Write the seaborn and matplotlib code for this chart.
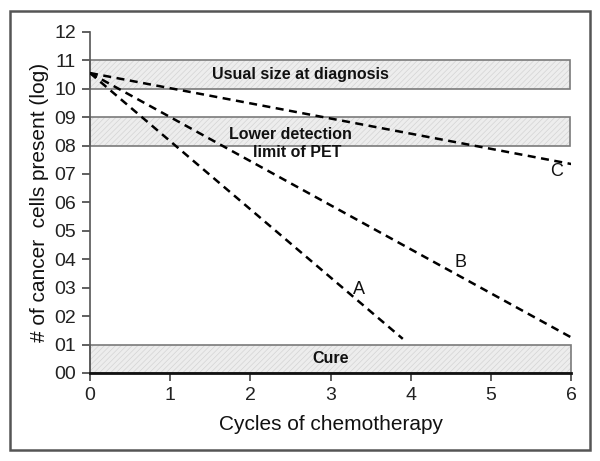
import numpy as np
import pandas as pd
import seaborn as sns
import matplotlib.pyplot as plt
from matplotlib.patches import Rectangle

# curves (log number of cancer cells vs cycles of chemotherapy)
curves = ['A', 'B', 'C']
cycles_start = [0, 0, 0]
cycles_end = [3.9, 6.0, 6.0]
log_start = [10.55, 10.55, 10.55]
log_end = [1.2, 1.25, 7.35]

# curve labels
label_x = [3.35, 4.62, 5.82]
label_y = [2.95, 3.9, 7.1]

# shaded bands
band_low = [10, 8, 0]
band_high = [11, 9, 1]
band_right = [5.98, 5.98, 6.0]

yticks = list(range(0, 13))
yticklabels = ['%02d' % v for v in yticks]
xticks = list(range(0, 7))

df = pd.DataFrame({
    'curve': curves * 2,
    'cycles': cycles_start + cycles_end,
    'log_cells': log_start + log_end,
})

sns.set_style('ticks')
plt.rcParams['font.family'] = ['Liberation Sans', 'DejaVu Sans']
plt.rcParams['hatch.linewidth'] = 0.5

fig = plt.figure(figsize=(6, 4.61), dpi=100)
ax = fig.add_axes([0.15, 0.191, 0.802, 0.74])

# outer frame
fig.patches.append(Rectangle((0.017, 0.024), 0.966, 0.953, transform=fig.transFigure,
                             fill=False, edgecolor='#555555', linewidth=1.8))

# bands: light hatched fill, then a gray outline on top
for lo, hi, r in zip(band_low, band_high, band_right):
    ax.add_patch(Rectangle((0, lo), r, hi - lo, facecolor='#ededed', edgecolor='#d4d4d4',
                           hatch='//////', linewidth=0, clip_on=False, zorder=1))
    ax.add_patch(Rectangle((0, lo), r, hi - lo, fill=False, edgecolor='#7a7a7a',
                           linewidth=1.2, clip_on=False, zorder=1.5))

# dashed curves
for c in curves:
    sns.lineplot(data=df[df['curve'] == c], x='cycles', y='log_cells', ax=ax,
                 color='black', linewidth=1.8, dashes=False, zorder=3)
for line in ax.lines:
    line.set_dashes((3.2, 2.2))

for c, x, y in zip(curves, label_x, label_y):
    ax.text(x, y, c, fontsize=13, ha='center', va='center', color='#111111')

ax.text(2.62, 10.5, 'Usual size at diagnosis', fontsize=11.5, fontweight='bold',
        ha='center', va='center', color='#111111')
ax.text(2.5, 8.38, 'Lower detection', fontsize=11.5, fontweight='bold',
        ha='center', va='center', color='#111111')
ax.text(2.58, 7.75, 'limit of PET', fontsize=11.5, fontweight='bold',
        ha='center', va='center', color='#111111')
ax.text(3.0, 0.5, 'Cure', fontsize=11.5, fontweight='bold',
        ha='center', va='center', color='#111111')

ax.set_xlim(0, 6)
ax.set_ylim(0, 12)
ax.set_yticks(yticks)
ax.set_yticklabels(yticklabels)
ax.set_xticks(xticks)
ax.tick_params(axis='both', labelsize=14, length=6, width=1.2, color='#444444',
               labelcolor='#222222', pad=4)
ax.set_xlabel('Cycles of chemotherapy', fontsize=15, color='#111111', labelpad=8)
ax.set_ylabel('# of cancer  cells present (log)', fontsize=15, color='#111111', labelpad=4)

sns.despine(ax=ax)
ax.spines['left'].set_color('#555555')
ax.spines['left'].set_linewidth(1.2)
ax.spines['bottom'].set_color('#111111')
ax.spines['bottom'].set_linewidth(2)
ax.spines['bottom'].set_zorder(4)

fig.savefig('out.png', dpi=100)
